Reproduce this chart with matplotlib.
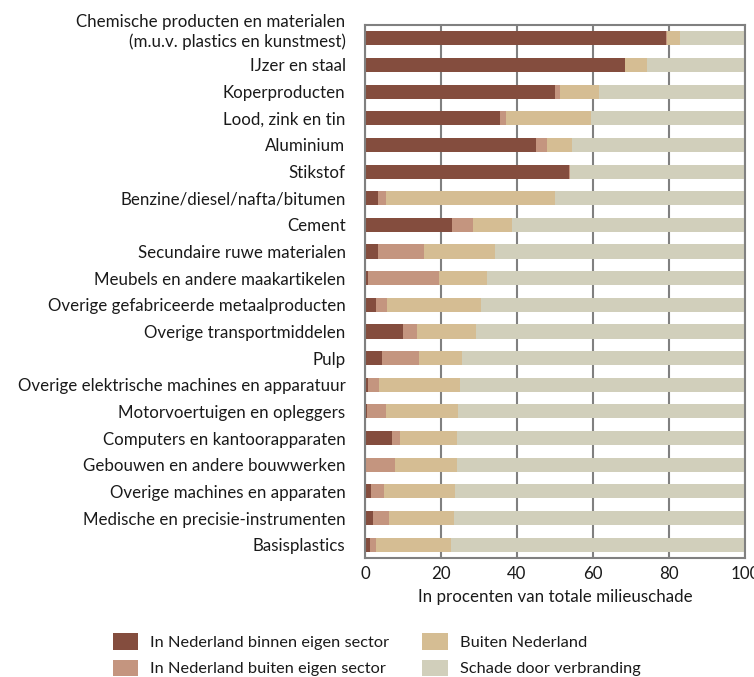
import matplotlib.pyplot as plt
from matplotlib.patches import Patch
from matplotlib.transforms import ScaledTranslation

# Categories (top to bottom)
sectors = [
    'Chemische producten en materialen\n(m.u.v. plastics en kunstmest)',
    'IJzer en staal',
    'Koperproducten',
    'Lood, zink en tin',
    'Aluminium',
    'Stikstof',
    'Benzine/diesel/nafta/bitumen',
    'Cement',
    'Secundaire ruwe materialen',
    'Meubels en andere maakartikelen',
    'Overige gefabriceerde metaalproducten',
    'Overige transportmiddelen',
    'Pulp',
    'Overige elektrische machines en apparatuur',
    'Motorvoertuigen en opleggers',
    'Computers en kantoorapparaten',
    'Gebouwen en andere bouwwerken',
    'Overige machines en apparaten',
    'Medische en precisie-instrumenten',
    'Basisplastics',
]

# Shares in percent
nl_eigen = [79.1, 68.3, 49.9, 35.4, 45.1, 53.6, 3.5, 22.8, 3.3, 0.9,
            3.0, 9.9, 4.6, 0.7, 0.4, 7.0, 0.0, 1.7, 2.0, 1.2]
nl_buiten = [0.3, 0.0, 1.5, 1.6, 2.9, 0.3, 1.9, 5.5, 12.1, 18.7,
             2.9, 3.9, 9.7, 2.9, 5.0, 2.3, 8.0, 3.2, 4.4, 1.6]
buiten_nl = [3.4, 6.0, 10.3, 22.6, 6.6, 0.0, 44.5, 10.5, 18.9, 12.6,
             24.5, 15.3, 11.1, 21.3, 19.2, 15.0, 16.1, 18.7, 16.9, 19.7]
labels = ['In Nederland binnen eigen sector', 'In Nederland buiten eigen sector',
          'Buiten Nederland', 'Schade door verbranding']
colors = ['#844d3e', '#c4957f', '#d5bd93', '#d1cfbb']

verbranding = [100 - a - b - c for a, b, c in zip(nl_eigen, nl_buiten, buiten_nl)]
series = [nl_eigen, nl_buiten, buiten_nl, verbranding]

plt.rcParams['font.family'] = ['Lato', 'DejaVu Sans']
txt = '#1a1a1a'
fs = 12.2

fig = plt.figure(figsize=(7.54, 6.77), dpi=100)
ax = fig.add_axes([365 / 754, 1 - 558 / 677, 380 / 754, 533 / 677])

y = range(len(sectors))
left = [0] * len(sectors)
for vals, col in zip(series, colors):
    ax.barh(y, vals, left=left, height=0.53, color=col, zorder=2)
    left = [l + v for l, v in zip(left, vals)]

ax.set_xlim(0, 100)
ax.set_ylim(len(sectors) - 0.5, -0.5)
ax.set_yticks(list(y))
ax.set_yticklabels(sectors, fontsize=fs, color=txt, linespacing=1.3)
ax.set_xticks([0, 20, 40, 60, 80, 100])
ax.tick_params(axis='x', length=0, labelsize=fs, labelcolor=txt, pad=6)
ax.tick_params(axis='y', length=0, pad=14)
ax.xaxis.grid(True, color='#808080', linewidth=1.5, zorder=0)
ax.set_axisbelow(True)
for s in ax.spines.values():
    s.set_color('#808080')
    s.set_linewidth(1.5)
ax.set_xlabel('In procenten van totale milieuschade', fontsize=fs, color=txt, labelpad=5)

# two-line label: second line sits level with its bar
first = ax.yaxis.get_major_ticks()[0].label1
first.set_transform(first.get_transform() + ScaledTranslation(0, 0.1, fig.dpi_scale_trans))

handles = [Patch(facecolor=c, edgecolor='none') for c in colors]
fig.legend(handles, labels, loc='upper left', bbox_to_anchor=(98 / 754, 1 - 618 / 677),
           ncol=2, frameon=False, fontsize=11.8, handlelength=1.55, handleheight=1.2,
           handletextpad=0.75, columnspacing=2.0, labelspacing=0.6, labelcolor=txt)

fig.savefig('out.png', dpi=100)
